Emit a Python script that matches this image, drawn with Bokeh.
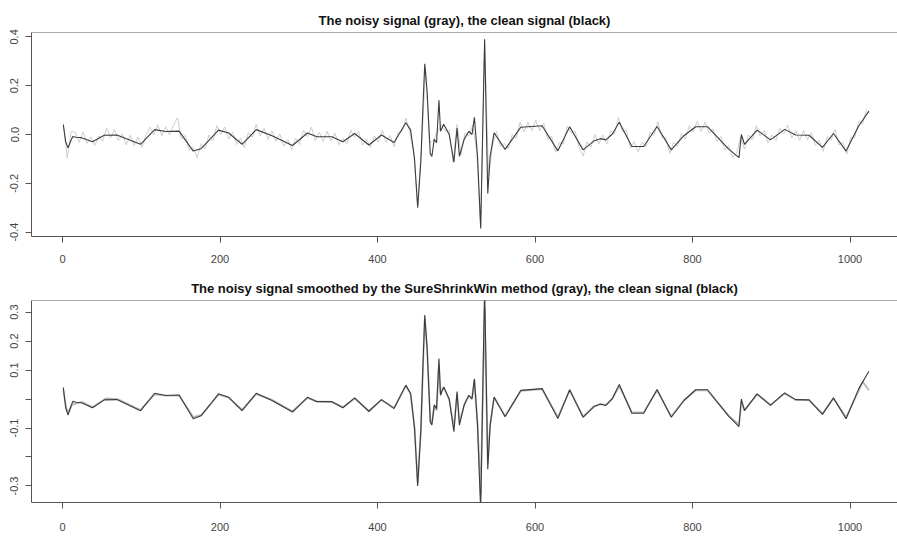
from bokeh.plotting import figure
from bokeh.layouts import column
from bokeh.models import Range1d, FixedTicker, Span
from bokeh.embed import file_html
from bokeh.resources import INLINE

# ---- clean signal (breakpoints) ----
clean_t = [1, 4, 7, 10, 13, 17, 24, 38, 53, 69, 99, 117, 131, 148, 166, 176, 188, 198, 211, 228,
           246, 266, 292, 311, 323, 342, 356, 371, 389, 405, 421, 436, 442, 447, 451, 455, 458, 460,
           463, 467, 469, 472, 475, 478, 480, 484, 491, 497, 501, 504, 510, 516, 520, 523, 527, 531,
           536, 540, 543, 548, 562, 582, 609, 629, 644, 661, 675, 683, 690, 698, 707, 723, 738, 755,
           773, 789, 804, 819, 846, 859, 862, 866, 882, 899, 917, 931, 948, 965, 979, 995, 1011, 1024]
clean_v = [0.040, -0.030, -0.055, -0.030, -0.008, -0.011, -0.013, -0.030, -0.003, -0.002, -0.040,
           0.020, 0.012, 0.014, -0.068, -0.058, -0.017, 0.018, 0.006, -0.040, 0.020, -0.005, -0.045,
           0.006, -0.009, -0.009, -0.030, 0.004, -0.043, -0.002, -0.033, 0.048, 0.019, -0.100, -0.300,
           -0.110, 0.140, 0.290, 0.174, -0.079, -0.090, -0.020, -0.033, 0.140, 0.013, 0.042, 0.000,
           -0.113, 0.026, -0.090, -0.020, 0.013, 0.000, 0.070, -0.090, -0.385, 0.390, -0.242, -0.090,
           0.007, -0.061, 0.030, 0.036, -0.067, 0.032, -0.063, -0.026, -0.017, -0.022, 0.001, 0.050,
           -0.049, -0.049, 0.033, -0.063, -0.005, 0.032, 0.032, -0.060, -0.095, 0.000, -0.040, 0.018,
           -0.022, 0.021, -0.002, -0.003, -0.053, 0.004, -0.068, 0.035, 0.096]

# ---- noisy signal (estimated every 5th sample) ----
noisy_t = list(range(1, 1025, 5))
noisy_v = [
    0.045, -0.097, 0.012, 0.010, -0.032, 0.010, -0.037, -0.010, -0.045, -0.006,
    -0.028, 0.027, -0.014, 0.020, -0.025, 0.003, -0.043, -0.003, -0.045, -0.011,
    -0.053, -0.002, 0.030, -0.001, 0.040, -0.005, 0.032, -0.002, 0.038, 0.069,
    -0.020, -0.003, -0.065, -0.053, -0.095, -0.038, -0.059, -0.002, -0.027, 0.036,
    0.000, 0.031, -0.019, 0.010, -0.041, -0.015, -0.055, 0.007, -0.012, 0.042,
    -0.006, 0.025, -0.021, 0.015, -0.028, 0.002, -0.048, -0.021, -0.062, -0.014,
    -0.041, 0.018, -0.009, 0.030, -0.026, 0.009, -0.029, 0.013, -0.027, 0.005,
    -0.042, -0.015, -0.039, 0.018, -0.011, 0.012, -0.044, -0.018, -0.053, -0.005,
    -0.032, 0.018, -0.032, -0.003, -0.051, 0.009, 0.011, 0.068, 0.009, -0.070,
    -0.290, -0.047, 0.270, -0.036, -0.023, 0.010, 0.040, 0.015, 0.018, -0.114,
    0.041, -0.082, 0.005, -0.005, 0.038, -0.070, -0.375, 0.380, -0.170, -0.047,
    0.013, -0.049, -0.036, -0.058, -0.001, -0.017, 0.050, 0.011, 0.050, 0.015,
    0.059, 0.015, 0.046, -0.020, -0.007, -0.073, -0.034, -0.038, 0.033, 0.006,
    0.013, -0.055, -0.088, -0.030, -0.052, 0.000, -0.039, -0.002, -0.039, 0.015,
    0.002, 0.070, 0.011, 0.018, -0.057, -0.029, -0.071, -0.031, -0.050, 0.010,
    -0.004, 0.053, -0.011, -0.012, -0.078, -0.032, -0.049, 0.004, -0.018, 0.037,
    0.010, 0.054, 0.012, 0.050, 0.005, 0.023, -0.029, -0.008, -0.063, -0.045,
    -0.093, -0.077, -0.012, -0.060, -0.002, -0.022, 0.036, -0.006, 0.017, -0.035,
    -0.002, -0.025, 0.027, 0.004, 0.039, -0.014, 0.016, -0.024, 0.017, -0.021,
    0.008, -0.045, -0.023, -0.069, -0.009, -0.023, 0.021, -0.043, -0.032, -0.080,
    -0.011, -0.013, 0.055, 0.043, 0.102]

# ---- SureShrinkWin smoothed signal (breakpoints) ----
smooth_t = [1, 5, 8, 12, 18, 25, 38, 55, 70, 99, 117, 131, 148, 166, 176, 188, 198, 211, 228, 246,
            266, 292, 311, 323, 342, 356, 371, 389, 405, 421, 436, 442, 447, 451, 455, 458, 460, 463,
            467, 469, 472, 475, 478, 480, 484, 491, 497, 501, 504, 510, 516, 520, 523, 527, 531, 536,
            540, 543, 548, 562, 582, 609, 629, 644, 661, 675, 683, 690, 698, 707, 723, 738, 755, 773,
            789, 804, 819, 846, 859, 862, 866, 882, 899, 917, 931, 948, 965, 979, 995, 1011, 1016, 1024]
smooth_v = [0.030, -0.035, -0.045, -0.020, -0.015, -0.010, -0.028, 0.002, 0.000, -0.038, 0.016,
            0.012, 0.012, -0.062, -0.055, -0.018, 0.015, 0.005, -0.037, 0.017, -0.003, -0.042, 0.004,
            -0.008, -0.010, -0.028, 0.002, -0.040, -0.003, -0.030, 0.045, 0.018, -0.100, -0.290,
            -0.110, 0.130, 0.280, 0.170, -0.075, -0.085, -0.025, -0.040, 0.120, 0.020, 0.040, 0.000,
            -0.100, 0.020, -0.080, -0.022, 0.012, 0.002, 0.065, -0.085, -0.330, 0.315, -0.220, -0.090,
            0.005, -0.058, 0.028, 0.034, -0.062, 0.030, -0.060, -0.025, -0.018, -0.020, 0.000, 0.045,
            -0.046, -0.046, 0.030, -0.060, -0.005, 0.030, 0.030, -0.057, -0.088, -0.010, -0.038, 0.016,
            -0.020, 0.019, -0.003, -0.004, -0.050, 0.002, -0.063, 0.028, 0.060, 0.030]

x_ticks = [0, 200, 400, 600, 800, 1000]
top_y_ticks = [-0.4, -0.2, 0.0, 0.2, 0.4]
top_y_labels = ["-0.4", "-0.2", "0.0", "0.2", "0.4"]
bot_y_ticks = [-0.3, -0.2, -0.1, 0.0, 0.1, 0.2, 0.3]
bot_y_labels = ["-0.3", "", "-0.1", "", "0.1", "0.2", "0.3"]

title_top = "The noisy signal (gray), the clean signal (black)"
title_bot = "The noisy signal smoothed by the SureShrinkWin method (gray), the clean signal (black)"

FONT = "Liberation Sans"
AXC = "#555555"


def make_panel(title, height, ymin, ymax, yticks, ylabels, b_top, b_bot, x_standoff):
    p = figure(width=897, height=height, output_backend="svg", toolbar_location=None,
               x_range=Range1d(-39.4, 1060.3), y_range=Range1d(ymin, ymax),
               min_border_left=31, min_border_right=0, min_border_top=b_top,
               min_border_bottom=b_bot, title=title)
    p.title.text_font = FONT
    p.title.text_font_size = "13px"
    p.title.text_font_style = "bold"
    p.title.text_color = "#111111"
    p.title.align = "center"
    p.title.standoff = 10
    p.outline_line_color = None
    p.grid.visible = False
    p.background_fill_color = "white"
    p.border_fill_color = "white"
    for ax in (p.xaxis[0], p.yaxis[0]):
        ax.axis_line_color = AXC
        ax.major_tick_line_color = AXC
        ax.minor_tick_line_color = None
        ax.major_tick_out = 6
        ax.major_tick_in = 0
        ax.major_label_text_font = FONT
        ax.major_label_text_font_size = "11px"
        ax.major_label_text_color = "#444444"
    p.xaxis.ticker = FixedTicker(ticks=x_ticks)
    p.xaxis.major_label_standoff = x_standoff
    p.yaxis.ticker = FixedTicker(ticks=yticks)
    p.yaxis.major_label_overrides = {t: l for t, l in zip(yticks, ylabels)}
    p.yaxis.major_label_orientation = "vertical"
    p.yaxis.major_label_standoff = 7
    p.add_layout(Span(location=ymax, dimension="width", line_color=AXC, line_width=1))
    return p


p1 = make_panel(title_top, 270, -0.418, 0.418, top_y_ticks, top_y_labels, 32, 34, 12)
p1.line(noisy_t, noisy_v, line_color="#cdcdcd", line_width=1)
p1.line(clean_t, clean_v, line_color="#3c3c3c", line_width=1.1)

p2 = make_panel(title_bot, 266, -0.357, 0.340, bot_y_ticks, bot_y_labels, 30, 34, 14)
p2.line(smooth_t, smooth_v, line_color="#b8b8b8", line_width=1.8)
p2.line(clean_t, clean_v, line_color="#3c3c3c", line_width=1.1)

layout = column(p1, p2)
open("out.html", "w").write(file_html(layout, INLINE))
